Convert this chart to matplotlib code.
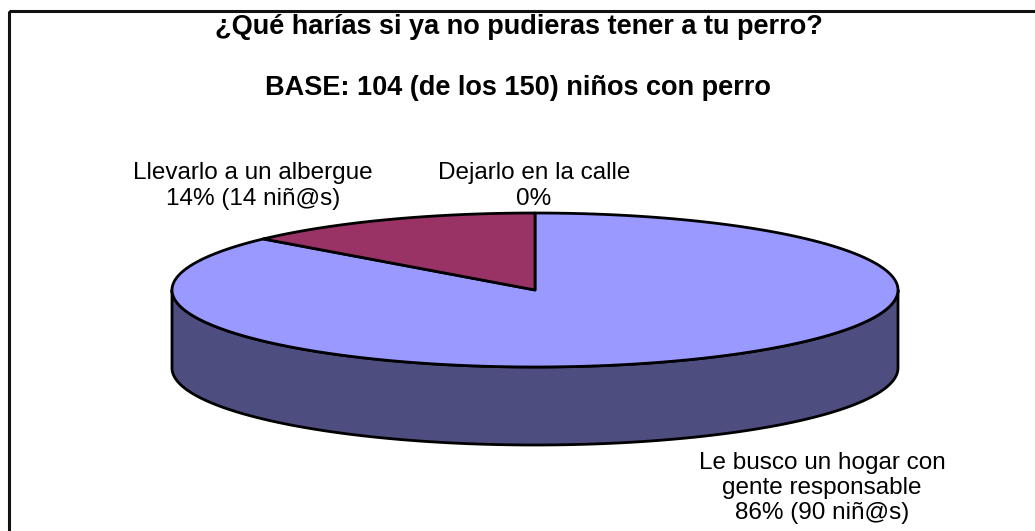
import numpy as np
import matplotlib
matplotlib.use("Agg")
import matplotlib.pyplot as plt
from matplotlib.patches import Polygon, Rectangle

plt.rcParams['font.family'] = ['Liberation Sans', 'DejaVu Sans']

# ---- data ----
title_line1 = "¿Qué harías si ya no pudieras tener a tu perro?"
title_line2 = "BASE: 104 (de los 150) niños con perro"
categories = ["Le busco un hogar con\ngente responsable", "Llevarlo a un albergue", "Dejarlo en la calle"]
counts = [90, 14, 0]
percents = [86, 14, 0]
colors = ["#9999FF", "#993366", "#FFFFCC"]
side_colors = ["#4D4D80", "#4D1A33", "#80806A"]

# ---- layout (pixels) ----
W, H = 1035, 531
cx, cy = 535, 290
a, b = 363, 77
depth = 78

fig = plt.figure(figsize=(W / 100, H / 100), dpi=100)
ax = fig.add_axes([0, 0, 1, 1])
ax.set_xlim(0, W)
ax.set_ylim(H, 0)
ax.axis('off')

# border
ax.add_patch(Rectangle((9, 11), W + 20, H + 20, fill=False, edgecolor='#111111', lw=2.2, zorder=1))

total = sum(counts)
fracs = [c / total for c in counts]
starts = np.concatenate([[0], np.cumsum(fracs)[:-1]]) * 2 * np.pi
ends = np.cumsum(fracs) * 2 * np.pi

def pt(th, dy=0.0):
    return cx + a * np.sin(th), cy - b * np.cos(th) + dy

# sides (front half only)
for s, e, sc in zip(starts, ends, side_colors):
    lo, hi = max(s, np.pi / 2), min(e, 3 * np.pi / 2)
    if hi <= lo:
        continue
    th = np.linspace(lo, hi, 200)
    xs, ys = pt(th)
    top = np.column_stack([xs, ys])
    bot = np.column_stack([xs, ys + depth])[::-1]
    ax.add_patch(Polygon(np.vstack([top, bot]), closed=True, facecolor=sc,
                         edgecolor='black', lw=2, joinstyle='round', zorder=2))

# top faces
for s, e, c in zip(starts, ends, colors):
    if e - s <= 0:
        continue
    th = np.linspace(s, e, 300)
    xs, ys = pt(th)
    poly = np.vstack([[cx, cy], np.column_stack([xs, ys])])
    ax.add_patch(Polygon(poly, closed=True, facecolor=c, edgecolor='black',
                         lw=2, joinstyle='round', zorder=3))

# titles
ax.text(519, 27, title_line1, ha='center', va='center', fontsize=19.5,
        fontweight='bold', color='black')
ax.text(518, 88, title_line2, ha='center', va='center', fontsize=19.5,
        fontweight='bold', color='black')

# labels
def lab(i):
    if counts[i] > 0:
        return f"{categories[i]}\n{percents[i]}% ({counts[i]} niñ@s)"
    return f"{categories[i]}\n{percents[i]}%"

label_pos = [(822, 488), (253, 186), (534, 186)]
for i, (lx, ly) in enumerate(label_pos):
    ax.text(lx, ly, lab(i), ha='center', va='center', fontsize=17.5,
            linespacing=1.2, color='black')

fig.savefig("out.png", dpi=100)
